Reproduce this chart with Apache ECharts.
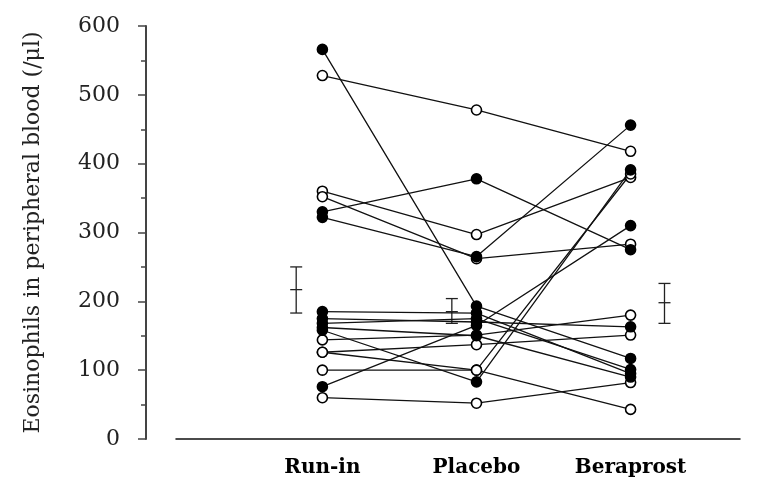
<!DOCTYPE html>
<html><head><meta charset="utf-8">
<script src="https://cdn.jsdelivr.net/npm/echarts@6/dist/echarts.min.js"></script>
<style>html,body{margin:0;padding:0;background:#fff}#c{width:771px;height:483px}</style>
</head><body><div id="c"></div>
<script>
const categories = ['Run-in', 'Placebo', 'Beraprost'];
// each subject: [Run-in, Placebo, Beraprost]
const filledSubjects = [
  [566, 193, 117],
  [330, 378, 275],
  [322, 265, 456],
  [185, 183, 95],
  [175, 170, 163],
  [168, 175, 101],
  [158, 83, 391],
  [76, 165, 310],
  [162, 150, 90]
];
const openSubjects = [
  [528, 478, 418],
  [360, 297, 380],
  [352, 262, 283],
  [144, 151, 180],
  [126, 137, 151],
  [100, 100, 43],
  [60, 52, 82],
  [126, 100, 385]
];
const meanValues = [217, 185, 198];
const upperValues = [250, 204, 226];
const lowerValues = [183, 168, 168];
const yTickValues = [0, 100, 200, 300, 400, 500, 600];

// layout: horizontal shift of each mean±SE bar from its category (in category units)
const barShift = [-0.17, -0.16, 0.22];

const chart = echarts.init(document.getElementById('c'));
const series = [];
function subjectSeries(vals, filled) {
  return {
    type: 'line',
    data: vals.map((v, i) => [i + 1, v]),
    symbol: 'circle',
    symbolSize: 10,
    showAllSymbol: true,
    lineStyle: { color: '#111', width: 1.3 },
    itemStyle: { color: filled ? '#000' : '#fff', borderColor: '#000', borderWidth: 1.6 },
    silent: true,
    z: filled ? 4 : 3
  };
}
openSubjects.forEach(s => series.push(subjectSeries(s, false)));
filledSubjects.forEach(s => series.push(subjectSeries(s, true)));

series.push({
  type: 'custom',
  data: meanValues.map((m, i) => [i, m, upperValues[i], lowerValues[i]]),
  renderItem: function (params, api) {
    const i = api.value(0);
    const x = i + 1 + barShift[i];
    const mid = api.coord([x, api.value(1)]);
    const top = api.coord([x, api.value(2)]);
    const bot = api.coord([x, api.value(3)]);
    const w = 6;
    const st = { stroke: '#222', lineWidth: 1.3 };
    return {
      type: 'group',
      children: [
        { type: 'line', shape: { x1: top[0], y1: top[1], x2: bot[0], y2: bot[1] }, style: st },
        { type: 'line', shape: { x1: top[0] - w, y1: top[1], x2: top[0] + w, y2: top[1] }, style: st },
        { type: 'line', shape: { x1: bot[0] - w, y1: bot[1], x2: bot[0] + w, y2: bot[1] }, style: st },
        { type: 'line', shape: { x1: mid[0] - w, y1: mid[1], x2: mid[0] + w, y2: mid[1] }, style: st }
      ]
    };
  },
  silent: true,
  z: 2
});

chart.setOption({
  animation: false,
  backgroundColor: '#fff',
  grid: { left: 176, right: 31, top: 26, bottom: 44 },
  xAxis: {
    type: 'value',
    min: 0.05,
    max: 3.71,
    axisLine: { show: true, lineStyle: { color: '#111', width: 1.5 } },
    axisTick: { show: false },
    splitLine: { show: false },
    axisLabel: {
      customValues: [1, 2, 3],
      formatter: v => categories[Math.round(v) - 1] || '',
      fontFamily: 'DejaVu Serif',
      fontWeight: 'bold',
      fontSize: 20,
      color: '#000',
      margin: 19
    }
  },
  yAxis: {
    type: 'value',
    min: 0,
    max: 600,
    interval: 100,
    offset: 30,
    name: 'Eosinophils in peripheral blood (/μl)',
    nameLocation: 'middle',
    nameRotate: 90,
    nameGap: 102,
    nameTextStyle: { fontFamily: 'DejaVu Serif', fontSize: 22, color: '#222' },
    axisLine: { show: true, lineStyle: { color: '#444', width: 2 } },
    axisTick: { show: true, length: 8, lineStyle: { color: '#444', width: 1.5 } },
    minorTick: { show: true, splitNumber: 2, length: 5, lineStyle: { color: '#444', width: 1.5 } },
    splitLine: { show: false },
    axisLabel: {
      customValues: yTickValues,
      fontFamily: 'DejaVu Serif',
      fontSize: 22,
      color: '#222',
      margin: 26
    }
  },
  series: series
});
</script>
</body></html>
